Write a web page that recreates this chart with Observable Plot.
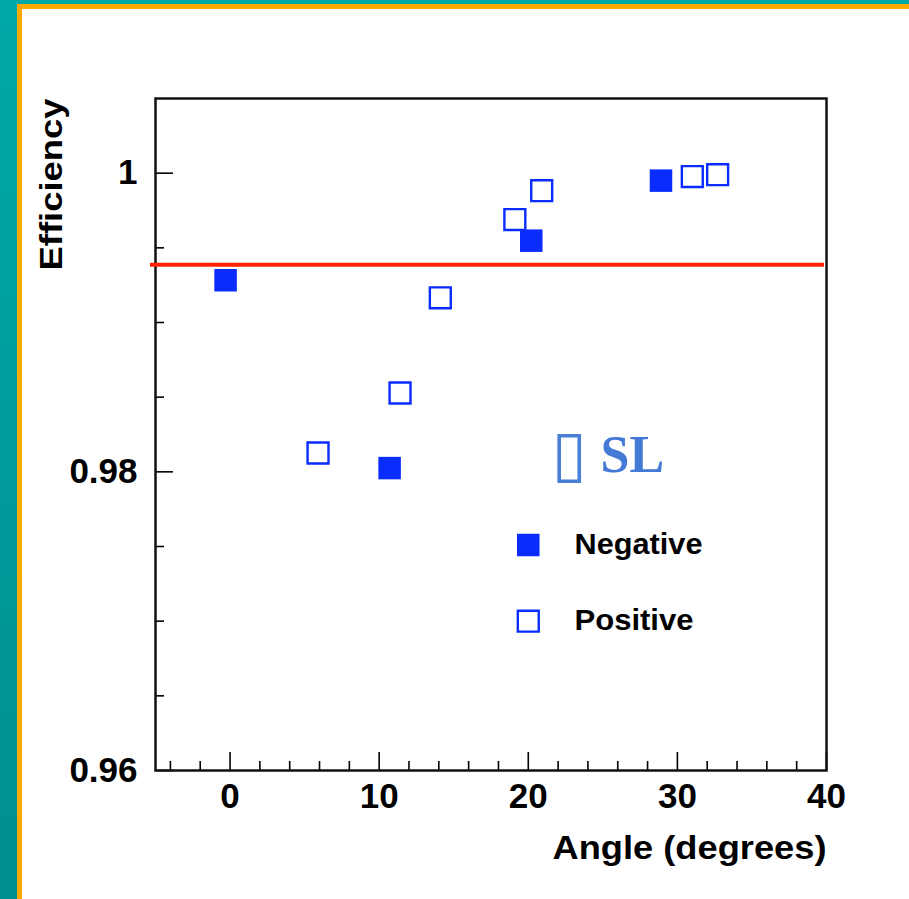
<!DOCTYPE html>
<html><head><meta charset="utf-8">
<script src="https://cdn.jsdelivr.net/npm/d3@7"></script>
<script src="https://cdn.jsdelivr.net/npm/@observablehq/plot@0.6"></script>
<style>
html,body{margin:0;padding:0;}
body{width:909px;height:899px;overflow:hidden;position:relative;background:linear-gradient(#00a9a9,#008e8e);}
#panel{position:absolute;left:17px;top:4px;right:0;bottom:0;background:#fff;border-left:5px solid #ffaa00;border-top:5px solid #ffaa00;}
#chart{position:absolute;left:0;top:0;}
</style></head><body><div id="panel"><div id="chart"></div></div>
<script>
// Data
const negAngle = [-0.3, 10.7, 20.2, 28.9];
const negEff   = [0.99283, 0.98025, 0.99548, 0.99950];
const posAngle = [5.9, 11.4, 14.1, 19.1, 20.9, 31.0, 32.7];
const posEff   = [0.98126, 0.98528, 0.99165, 0.99689, 0.99883, 0.99977, 0.99990];
const refLine  = [0.99387];
const xMajor = [0, 10, 20, 30, 40];
const xMinor = [-4, -2, 2, 4, 6, 8, 12, 14, 16, 18, 22, 24, 26, 28, 32, 34, 36, 38];
const yMajor = [0.96, 0.98, 1.0];
const yMinor = [0.965, 0.97, 0.975, 0.985, 0.99, 0.995];
const xTitle = "Angle (degrees)";
const yTitle = "Efficiency";
const legendLabels = ["Negative", "Positive"];

const neg = negAngle.map((a, i) => ({angle: a, eff: negEff[i]}));
const pos = posAngle.map((a, i) => ({angle: a, eff: posEff[i]}));

const W = 887, H = 890, mL = 133, mR = 83, mT = 89, mB = 129;
const innerW = W - mL - mR, innerH = H - mT - mB;
const blue = "#0a2cff";
const font = "Liberation Sans, Arial, Helvetica, sans-serif";

const chart = Plot.plot({
  width: W, height: H,
  marginLeft: mL, marginRight: mR, marginTop: mT, marginBottom: mB,
  style: {background: "transparent", fontFamily: font},
  x: {domain: [-5, 40]},
  y: {domain: [0.96, 1.005]},
  marks: [
    Plot.ruleX(xMajor, {x: d => d, insetTop: innerH - 18, stroke: "#000", strokeWidth: 1.6}),
    Plot.ruleX(xMinor, {x: d => d, insetTop: innerH - 9, stroke: "#000", strokeWidth: 1.6}),
    Plot.ruleY(yMajor, {y: d => d, insetRight: innerW - 18, stroke: "#000", strokeWidth: 1.6}),
    Plot.ruleY(yMinor, {y: d => d, insetRight: innerW - 9, stroke: "#000", strokeWidth: 1.6}),
    Plot.axisX(xMajor, {tickSize: 0, tickPadding: 13, tickFormat: d => String(d), fontSize: 35, fontWeight: "bold", fill: "#000", label: null}),
    Plot.axisY(yMajor, {tickSize: 0, tickPadding: 18, tickFormat: d => d === 1 ? "1" : d.toFixed(2), fontSize: 35, fontWeight: "bold", fill: "#000", label: null}),
    Plot.frame({stroke: "#111", strokeWidth: 2.5}),
    Plot.ruleY(refLine, {y: d => d, stroke: "#ff2200", strokeWidth: 4, insetLeft: -5, insetRight: 2}),
    Plot.dot(neg, {x: "angle", y: "eff", symbol: "square", r: 12.7, fill: blue, stroke: null}),
    Plot.dot(pos, {x: "angle", y: "eff", symbol: "square", r: 11.8, fill: "none", stroke: blue, strokeWidth: 2.4}),
    // legend
    Plot.dot([legendLabels[0]], {x: 20, y: 0.9751, symbol: "square", r: 12.7, fill: blue, stroke: null}),
    Plot.dot([legendLabels[1]], {x: 20, y: 0.9700, symbol: "square", r: 11.8, fill: "none", stroke: blue, strokeWidth: 2.4}),
    Plot.text([legendLabels[0]], {x: 23.1, y: 0.9751, text: d => d, textAnchor: "start", fontSize: 29, fontWeight: "bold", fill: "#000", className: "lg0"}),
    Plot.text([legendLabels[1]], {x: 23.1, y: 0.9700, text: d => d, textAnchor: "start", fontSize: 29, fontWeight: "bold", fill: "#000", className: "lg1"}),
    Plot.text(["\u25AF"], {x: 22.73, y: 0.98113, text: d => d, fontFamily: "DejaVu Sans", fontSize: 64, fill: "#4a7fd6"}),
    Plot.text(["SL"], {x: 24.85, y: 0.98113, text: d => d, textAnchor: "start", fontFamily: "Liberation Serif, Times New Roman, serif", fontWeight: "bold", fontSize: 52, fill: "#447ad6"}),
    // axis titles
    Plot.text([xTitle], {frameAnchor: "bottom-right", text: d => d, textAnchor: "end", dy: 88, fontSize: 34, fontWeight: "bold", fill: "#000", className: "xt"}),
    Plot.text([yTitle], {frameAnchor: "top-left", text: d => d, textAnchor: "end", rotate: -90, dx: -116, fontSize: 32, fontWeight: "bold", fill: "#000", className: "yt"})
  ]
});
// stretch titles to the reference's wider letterforms
const stretch = (cls, len) => chart.querySelectorAll(`.${cls} text`).forEach(t => {
  t.setAttribute("textLength", len); t.setAttribute("lengthAdjust", "spacingAndGlyphs");
});
stretch("xt", 274);
stretch("yt", 172);
stretch("lg0", 128);
stretch("lg1", 119);
document.getElementById("chart").appendChild(chart);
</script>
</body></html>
